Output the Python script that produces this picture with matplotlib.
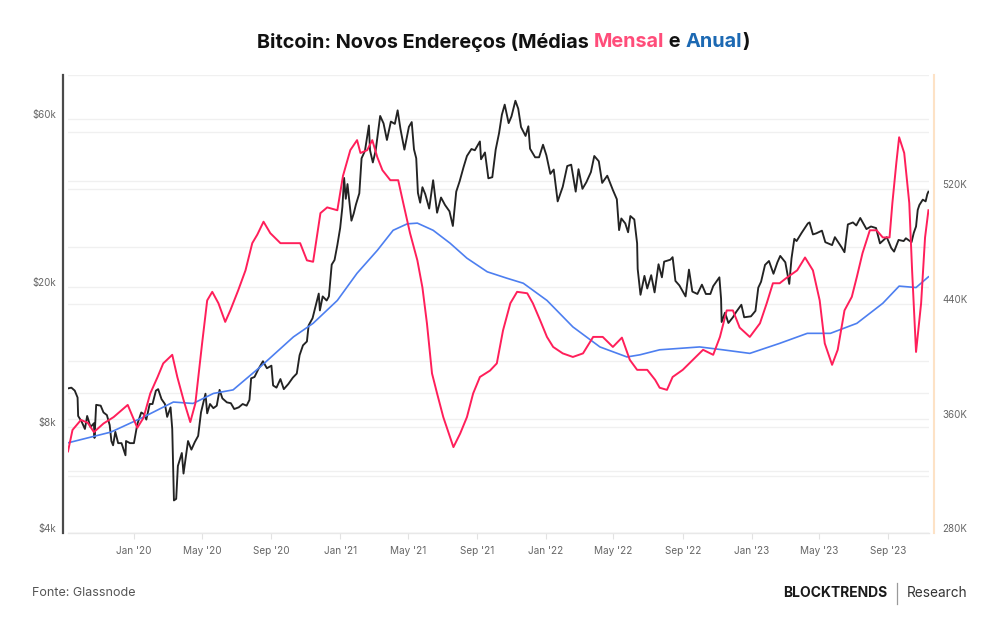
import matplotlib
matplotlib.use("Agg")
import matplotlib.pyplot as plt
import matplotlib.dates as mdates
from matplotlib.ticker import NullLocator, FixedLocator
from matplotlib.transforms import ScaledTranslation, IdentityTransform
from matplotlib.lines import Line2D
import pandas as pd

plt.rcParams['font.family'] = ['Inter', 'DejaVu Sans']

# ---------------- data ----------------
price_dates = [
    "2019-09-06", "2019-09-12", "2019-09-18", "2019-09-23", "2019-09-24", "2019-09-30",
    "2019-10-06", "2019-10-10", "2019-10-16", "2019-10-22", "2019-10-23", "2019-10-25",
    "2019-10-26", "2019-11-03", "2019-11-08", "2019-11-14", "2019-11-19", "2019-11-22",
    "2019-11-25", "2019-11-29", "2019-12-04", "2019-12-10", "2019-12-17", "2019-12-18",
    "2019-12-25", "2020-01-01", "2020-01-07", "2020-01-14", "2020-01-19", "2020-01-23",
    "2020-01-29", "2020-02-03", "2020-02-09", "2020-02-13", "2020-02-19", "2020-02-25",
    "2020-02-29", "2020-03-06", "2020-03-09", "2020-03-12", "2020-03-16", "2020-03-19",
    "2020-03-26", "2020-03-29", "2020-04-06", "2020-04-12", "2020-04-18", "2020-04-24",
    "2020-04-29", "2020-05-07", "2020-05-10", "2020-05-15", "2020-05-21", "2020-05-27",
    "2020-06-01", "2020-06-06", "2020-06-14", "2020-06-21", "2020-06-27", "2020-07-05",
    "2020-07-12", "2020-07-19", "2020-07-24", "2020-07-27", "2020-08-02", "2020-08-09",
    "2020-08-17", "2020-08-24", "2020-09-01", "2020-09-04", "2020-09-10", "2020-09-17",
    "2020-09-23", "2020-10-01", "2020-10-09", "2020-10-16", "2020-10-21", "2020-10-27",
    "2020-11-03", "2020-11-06", "2020-11-13", "2020-11-19", "2020-11-24", "2020-11-26",
    "2020-12-01", "2020-12-08", "2020-12-12", "2020-12-17", "2020-12-22", "2020-12-27",
    "2021-01-01", "2021-01-05", "2021-01-08", "2021-01-11", "2021-01-14", "2021-01-21",
    "2021-01-25", "2021-01-29", "2021-02-04", "2021-02-08", "2021-02-14", "2021-02-21",
    "2021-02-23", "2021-02-28", "2021-03-05", "2021-03-13", "2021-03-19", "2021-03-25",
    "2021-04-01", "2021-04-08", "2021-04-13", "2021-04-18", "2021-04-25", "2021-05-03",
    "2021-05-08", "2021-05-12", "2021-05-16", "2021-05-19", "2021-05-23", "2021-05-27",
    "2021-06-01", "2021-06-08", "2021-06-15", "2021-06-22", "2021-06-29", "2021-07-06",
    "2021-07-14", "2021-07-20", "2021-07-26", "2021-08-01", "2021-08-08", "2021-08-14",
    "2021-08-22", "2021-08-28", "2021-09-06", "2021-09-08", "2021-09-15", "2021-09-21",
    "2021-09-28", "2021-10-04", "2021-10-10", "2021-10-15", "2021-10-20", "2021-10-27",
    "2021-11-01", "2021-11-08", "2021-11-13", "2021-11-18", "2021-11-26", "2021-12-01",
    "2021-12-04", "2021-12-13", "2021-12-20", "2021-12-27", "2022-01-02", "2022-01-09",
    "2022-01-15", "2022-01-22", "2022-01-31", "2022-02-08", "2022-02-15", "2022-02-23",
    "2022-02-28", "2022-03-07", "2022-03-14", "2022-03-22", "2022-03-28", "2022-04-05",
    "2022-04-11", "2022-04-20", "2022-04-30", "2022-05-07", "2022-05-11", "2022-05-15",
    "2022-05-22", "2022-05-27", "2022-05-31", "2022-06-07", "2022-06-12", "2022-06-13",
    "2022-06-18", "2022-06-25", "2022-06-30", "2022-07-07", "2022-07-13", "2022-07-20",
    "2022-07-26", "2022-07-30", "2022-08-10", "2022-08-14", "2022-08-19", "2022-08-26",
    "2022-09-06", "2022-09-12", "2022-09-18", "2022-09-27", "2022-10-05", "2022-10-12",
    "2022-10-20", "2022-10-25", "2022-11-05", "2022-11-08", "2022-11-09", "2022-11-15",
    "2022-11-21", "2022-11-29", "2022-12-05", "2022-12-14", "2022-12-19", "2022-12-31",
    "2023-01-08", "2023-01-13", "2023-01-18", "2023-01-25", "2023-02-01", "2023-02-09",
    "2023-02-16", "2023-02-21", "2023-03-02", "2023-03-09", "2023-03-13", "2023-03-18",
    "2023-03-22", "2023-03-31", "2023-04-11", "2023-04-14", "2023-04-20", "2023-04-26",
    "2023-05-06", "2023-05-12", "2023-05-24", "2023-05-29", "2023-06-10", "2023-06-15",
    "2023-06-21", "2023-06-30", "2023-07-06", "2023-07-13", "2023-07-24", "2023-08-01",
    "2023-08-10", "2023-08-17", "2023-08-29", "2023-09-06", "2023-09-11", "2023-09-19",
    "2023-09-28", "2023-10-02", "2023-10-12", "2023-10-16", "2023-10-20", "2023-10-23",
    "2023-10-26", "2023-11-01", "2023-11-06", "2023-11-09", "2023-11-11",
]
price_values = [
    10300, 10350, 10150, 9700, 8600, 8300,
    7900, 8600, 8000, 8200, 7450, 8650,
    9250, 9200, 8800, 8650, 8100, 7300,
    7100, 7750, 7200, 7200, 6650, 7300,
    7200, 7200, 8150, 8800, 8700, 8400,
    9300, 9300, 10150, 10250, 9600, 9300,
    8550, 9100, 7900, 4950, 5000, 6200,
    6750, 5900, 7300, 6900, 7250, 7550,
    8800, 9950, 8750, 9300, 9050, 9200,
    10200, 9650, 9400, 9350, 9000, 9100,
    9300, 9200, 9550, 11000, 11100, 11700,
    12300, 11750, 11950, 10500, 10350, 10950,
    10250, 10600, 11050, 11350, 12800, 13650,
    14000, 15550, 16300, 17800, 19150, 17150,
    18800, 18300, 18800, 23150, 23850, 26300,
    29400, 33800, 40800, 35600, 39200, 30850,
    32300, 34300, 36900, 46400, 48700, 57500,
    48900, 45150, 48800, 61200, 58300, 52300,
    59000, 58100, 63500, 56200, 49100, 57000,
    58800, 49200, 46400, 37000, 34700, 38400,
    36700, 33400, 40200, 32500, 35900, 34200,
    32800, 29800, 37300, 39900, 43800, 47100,
    49300, 48900, 51800, 46100, 48200, 40700,
    41000, 49100, 54700, 61700, 65900, 58400,
    61000, 67600, 64200, 56900, 53700, 57200,
    49400, 46700, 46700, 50700, 47300, 41900,
    43100, 35000, 38500, 44100, 44500, 37300,
    43200, 38000, 39700, 42400, 47100, 45500,
    39500, 41400, 37700, 35500, 29000, 31300,
    30300, 28600, 31800, 31100, 26600, 22500,
    19000, 21500, 19800, 21600, 19300, 23200,
    21300, 23600, 23900, 24300, 20800, 20200,
    18800, 22400, 19400, 19100, 20300, 19100,
    19100, 20100, 21300, 18500, 15900, 16900,
    15800, 16400, 17000, 17800, 16400, 16500,
    17100, 19900, 20700, 23100, 23700, 21800,
    23500, 24500, 23500, 20400, 24100, 27400,
    27000, 28500, 30300, 30500, 28200, 28400,
    28900, 26800, 26300, 27700, 25900, 25100,
    30100, 30500, 29900, 31400, 29200, 29700,
    29400, 26600, 27700, 25800, 25200, 27200,
    27000, 27500, 26800, 28500, 29700, 33100,
    34200, 35400, 35000, 36700, 37300,
]

monthly_dates = [
    "2019-09-06", "2019-09-14", "2019-09-29", "2019-10-11", "2019-10-22", "2019-11-08",
    "2019-11-26", "2019-12-21", "2019-12-30", "2020-01-07", "2020-01-18", "2020-01-30",
    "2020-02-12", "2020-02-22", "2020-03-09", "2020-03-18", "2020-03-29", "2020-04-10",
    "2020-04-19", "2020-05-01", "2020-05-10", "2020-05-19", "2020-05-30", "2020-06-11",
    "2020-06-20", "2020-07-04", "2020-07-17", "2020-07-29", "2020-08-07", "2020-08-18",
    "2020-08-30", "2020-09-17", "2020-10-04", "2020-10-22", "2020-11-03", "2020-11-14",
    "2020-11-27", "2020-12-09", "2020-12-27", "2021-01-06", "2021-01-19", "2021-01-31",
    "2021-02-06", "2021-02-18", "2021-02-27", "2021-03-08", "2021-03-17", "2021-03-31",
    "2021-04-14", "2021-04-23", "2021-05-05", "2021-05-18", "2021-05-27", "2021-06-04",
    "2021-06-13", "2021-06-22", "2021-07-03", "2021-07-15", "2021-07-21", "2021-08-02",
    "2021-08-14", "2021-08-25", "2021-09-06", "2021-09-24", "2021-10-06", "2021-10-17",
    "2021-10-30", "2021-11-11", "2021-11-29", "2021-12-09", "2021-12-22", "2022-01-03",
    "2022-01-14", "2022-01-31", "2022-02-18", "2022-03-08", "2022-03-26", "2022-04-12",
    "2022-04-30", "2022-05-16", "2022-05-30", "2022-06-12", "2022-06-30", "2022-07-14",
    "2022-07-22", "2022-08-04", "2022-08-14", "2022-09-01", "2022-09-19", "2022-10-07",
    "2022-10-25", "2022-11-06", "2022-11-18", "2022-11-29", "2022-12-11", "2022-12-29",
    "2023-01-16", "2023-01-28", "2023-02-08", "2023-02-20", "2023-03-05", "2023-03-23",
    "2023-04-06", "2023-04-20", "2023-05-02", "2023-05-11", "2023-05-24", "2023-06-03",
    "2023-06-15", "2023-06-28", "2023-07-07", "2023-07-17", "2023-07-30", "2023-08-11",
    "2023-08-22", "2023-09-03", "2023-09-08", "2023-09-15", "2023-09-20", "2023-09-29",
    "2023-10-08", "2023-10-13", "2023-10-20", "2023-10-29", "2023-11-05", "2023-11-11",
]
monthly_values = [  # thousand new addresses (30-day average)
    337, 352, 359, 357, 350.5, 356.5,
    361, 369.5, 361, 353.5, 360.5, 377.5,
    389, 398.5, 404.5, 389, 373, 357.5,
    370.5, 412.5, 442.5, 448.5, 440.5, 427.5,
    435.5, 449.5, 463.5, 482.5, 488.5, 497.5,
    489.5, 482.5, 482.5, 482.5, 470.5, 469.5,
    503.5, 507.5, 505.5, 529.5, 547.5, 554.5,
    545.5, 547.5, 554.5, 542.5, 533.5, 526.5,
    526.5, 510.5, 489.5, 470.5, 451.5, 426.5,
    391.5, 377.5, 361, 347, 340, 349.5,
    361, 377.5, 389, 393.5, 398.5, 421.5,
    440.5, 448.5, 447.5, 440.5, 428.5, 417,
    410, 405.5, 403, 405.5, 417, 417,
    410, 416.5, 401, 394, 394, 387,
    381.5, 380, 389, 394, 401, 408,
    404.5, 417, 435.5, 435.5, 423.5, 417,
    426.5, 440.5, 454.5, 454.5, 458.5, 463.5,
    472.5, 463.5, 442.5, 412.5, 397.5, 408,
    435.5, 445, 459, 475.5, 491.5, 491.5,
    486.5, 486.5, 510.5, 538.5, 556.5, 545.5,
    510.5, 463.5, 406.5, 440.5, 486.5, 505.5,
]

annual_dates = [
    "2019-09-06", "2019-11-21", "2020-01-18", "2020-03-11", "2020-04-15", "2020-05-21",
    "2020-06-25", "2020-08-12", "2020-10-10", "2020-11-14", "2020-12-27", "2021-01-31",
    "2021-03-08", "2021-04-05", "2021-04-30", "2021-05-18", "2021-06-15", "2021-07-15",
    "2021-08-14", "2021-09-19", "2021-10-24", "2021-11-22", "2022-01-03", "2022-02-18",
    "2022-04-07", "2022-05-25", "2022-06-17", "2022-07-22", "2022-10-01", "2022-11-11",
    "2022-12-29", "2023-02-20", "2023-04-10", "2023-05-21", "2023-07-07", "2023-08-22",
    "2023-09-20", "2023-10-20", "2023-11-11",
]
annual_values = [  # thousand new addresses (365-day average)
    343, 350.5, 361, 371.5, 370.5, 377.5,
    380, 396, 417, 426.5, 442.5, 461.5,
    477.5, 491.5, 496, 496.5, 491.5, 482.5,
    472, 462.5, 458, 454.5, 442.5, 424,
    410, 403, 404.5, 408, 410, 408,
    405.5, 412.5, 419.5, 419.5, 426.5, 440.5,
    452.5, 451.5, 459,
]

left_grid = [4000, 6000, 8000, 10000, 20000, 40000, 60000]
left_labels = ["$4k", "", "$8k", "", "$20k", "", "$60k"]
right_grid = [280, 320, 360, 400, 440, 480, 520, 560, 600]
right_ticks = [280, 360, 440, 520]
right_labels = ["280K", "360K", "440K", "520K"]

title_parts = [
    ("Bitcoin: Novos Endereços (Médias ", "#111111"),
    ("Mensal", "#ff4d7a"),
    (" e ", "#111111"),
    ("Anual", "#1c69b3"),
    (")", "#111111"),
]

# ---------------- figure ----------------
W, H = 1000, 630
fig = plt.figure(figsize=(W / 100, H / 100), dpi=100)
fig.patch.set_facecolor("white")

pos = [68 / W, (H - 533) / H, 861 / W, 458 / H]
xmin, xmax = pd.Timestamp("2019-09-06"), pd.Timestamp("2023-11-12")

# background grid for the right scale
axg = fig.add_axes(pos, label="grid_right")
axg.set_xlim(xmin, xmax)
axg.set_ylim(280, 600)
axg.yaxis.set_major_locator(FixedLocator(right_grid))
axg.grid(axis="y", color="#f0f0f0", lw=1.0)
axg.tick_params(left=False, labelleft=False, bottom=False, labelbottom=False)
for s in axg.spines.values():
    s.set_visible(False)

# price axis (left, log)
ax = fig.add_axes(pos, label="price")
ax.patch.set_visible(False)
ax.set_yscale("log")
ax.set_xlim(xmin, xmax)
ax.set_ylim(4000, 80000)
ax.yaxis.set_major_locator(FixedLocator(left_grid))
ax.yaxis.set_minor_locator(NullLocator())
ax.set_yticklabels(left_labels)
ax.grid(axis="y", color="#f0f0f0", lw=1.0)
ax.set_axisbelow(True)
ax.plot(pd.to_datetime(price_dates), price_values, color="#232323", lw=1.35,
        solid_joinstyle="round", zorder=3)

ax.xaxis.set_major_locator(mdates.MonthLocator(bymonth=[1, 5, 9]))
ax.xaxis.set_major_formatter(mdates.DateFormatter("%b '%y"))
ax.tick_params(axis="x", length=4.3, width=0.8, color="#e2e2e2", labelcolor="#666666",
               labelsize=7.2, pad=5)
ax.tick_params(axis="y", length=0, pad=5, labelcolor="#666666", labelsize=7)
for side in ["top", "right"]:
    ax.spines[side].set_visible(False)
ax.spines["bottom"].set_color("#e8e8e8")
ax.spines["bottom"].set_linewidth(1.0)
ax.spines["left"].set_position(("outward", 3.6))
ax.spines["left"].set_color("#4a4a4a")
ax.spines["left"].set_linewidth(1.6)

# addresses axis (right)
ax2 = ax.twinx()
ax2.set_ylim(280, 600)
ax2.yaxis.set_major_locator(FixedLocator(right_ticks))
ax2.set_yticklabels(right_labels)
ax2.tick_params(axis="y", length=0, pad=6, labelcolor="#666666", labelsize=7)
for side in ["top", "left", "bottom"]:
    ax2.spines[side].set_visible(False)
ax2.spines["right"].set_position(("outward", 3.6))
ax2.spines["right"].set_color("#fde2c6")
ax2.spines["right"].set_linewidth(1.5)
ax2.plot(pd.to_datetime(annual_dates), annual_values, color="#4d7ff0", lw=1.2, zorder=3)
ax2.plot(pd.to_datetime(monthly_dates), monthly_values, color="#ff1f5a", lw=1.4,
         solid_joinstyle="round", zorder=4)

# shift y tick labels slightly above their grid lines
shift = ScaledTranslation(0, 5 / 100, fig.dpi_scale_trans)
for a in (ax, ax2):
    for t in a.yaxis.get_major_ticks():
        t.label1.set_transform(t.label1.get_transform() + shift)
        t.label2.set_transform(t.label2.get_transform() + shift)

# ---------------- title (multi-colour) ----------------
renderer = fig.canvas.get_renderer()
title_kw = dict(fontsize=14.3, fontweight="bold", va="center", ha="left")


def text_width(s):
    t = fig.text(0, 0, s, transform=IdentityTransform(), **title_kw)
    w = t.get_window_extent(renderer).width
    t.remove()
    return w


full = "".join(p for p, _ in title_parts)
total_w = text_width(full)
x_start = 503.5 - total_w / 2
ref_w = text_width("X")
prefix = ""
for s, c in title_parts:
    off = text_width(prefix + "X") - ref_w if prefix else 0
    fig.text(x_start + off, H - 42, s, color=c, transform=IdentityTransform(), **title_kw)
    prefix += s

# ---------------- footer ----------------
fig.text(32 / W, 1 - 593 / H, "Fonte: Glassnode", fontsize=9, color="#555555",
         ha="left", va="center")
fig.text(887 / W, 1 - 593 / H, "BLOCKTRENDS", fontsize=10, fontweight="bold",
         color="#1a1a1a", ha="right", va="center")
fig.add_artist(Line2D([897 / W, 897 / W], [1 - 583 / H, 1 - 604 / H], color="#9a9a9a",
                      lw=0.9, transform=fig.transFigure))
fig.text(907 / W, 1 - 593 / H, "Research", fontsize=9.8, color="#333333",
         ha="left", va="center")

fig.savefig("out.png", dpi=100, facecolor="white")
